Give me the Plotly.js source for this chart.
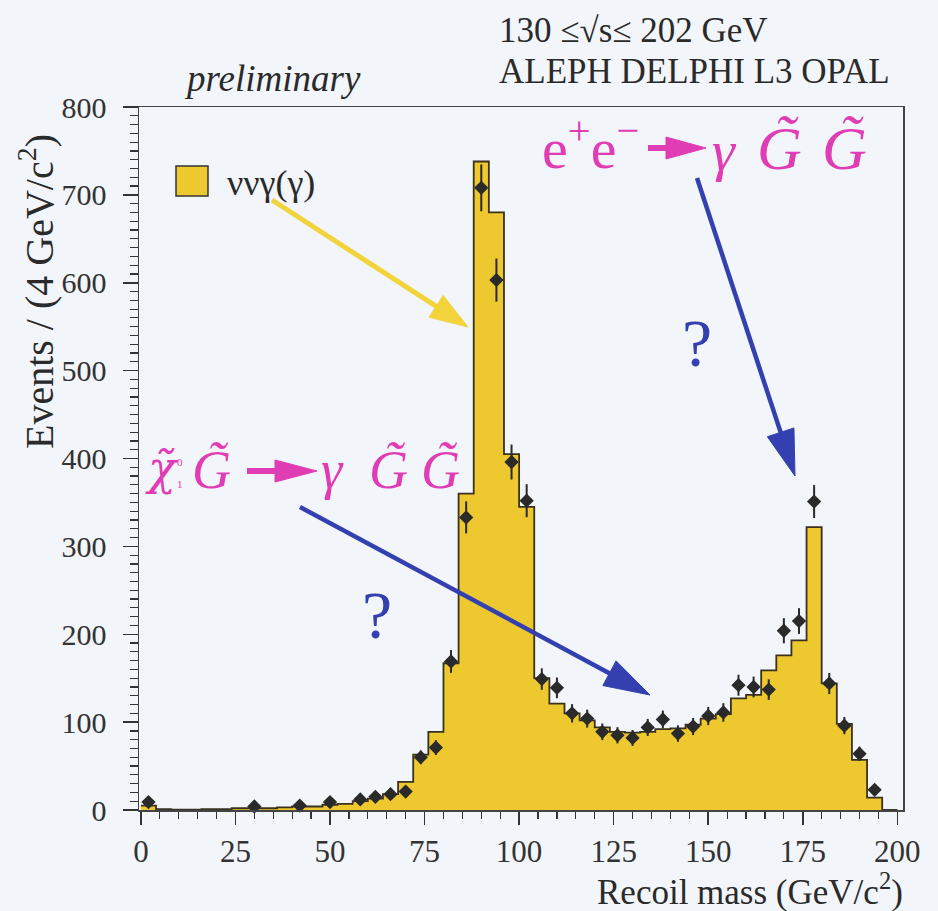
<!DOCTYPE html>
<html><head><meta charset="utf-8">
<script src="https://cdn.plot.ly/plotly-3.0.1.min.js"></script>
<style>html,body{margin:0;padding:0;background:#f2f5fa;} #chart{width:938px;height:911px;}</style>
</head><body><div id="chart"></div>
<script>
// ---- data ----
const binCenters = [2,6,10,14,18,22,26,30,34,38,42,46,50,54,58,62,66,70,74,78,82,86,90,94,98,102,106,110,114,118,122,126,130,134,138,142,146,150,154,158,162,166,170,174,178,182,186,190,194,198];
const binWidth = 4;
const mcCounts = [5,1,0.5,0.5,1,1,2,2,2,3, 4,4,6,7,10,13,18,32,63,89, 167,360,738,680,405,345,150,121,110,102, 94,89,88,89,92,93,97,104,109,127, 131,159,176,193,322,144,98,57,14,0];
const dataCounts = [9,null,null,null,null,null,null,4,null,null, 5,null,9,null,12,15,18,21,60,71, 169,333,708,603,396,352,149,139,110,104, 89,85,82,94,103,87,95,107,111,142, 140,137,204,215,351,144,96,64,23,null];
const xTickVals = [0,25,50,75,100,125,150,175,200];
const xTickText = ['0','25','50','75','100','125','150','175','200'];
const yTickVals = [0,100,200,300,400,500,600,700,800];
const yTickText = ['0','100','200','300','400','500','600','700','800'];
const legendLabel = 'ννγ(γ)';

// ---- styling ----
const FONT = '"Liberation Serif", "Times New Roman", serif';
const GFONT = '"DejaVu Serif", "Liberation Serif", serif';
const BG = '#f2f5fa';
const YELLOW = '#edc82e';
const INK = '#2a2a2a';
const MAGENTA = '#e03cb4';
const BLUE = '#3540b0';
const W = 938, H = 911;
const L = 139, R = 903, T = 107, B = 810;
const px = x => (x - L) / (R - L);
const py = y => (B - y) / (B - T);

// step outline built from bin edges
const stepX = binCenters.map(c => c - binWidth / 2).concat([binCenters[binCenters.length - 1] + binWidth / 2]);
const stepY = mcCounts.concat([mcCounts[mcCounts.length - 1]]);

const traces = [
  {type:'scatter', mode:'lines', x: stepX, y: stepY, line:{shape:'hv', color:'#3a3220', width:1.8},
   fill:'tozeroy', fillcolor: YELLOW, showlegend:false, hoverinfo:'skip'},
  {type:'scatter', mode:'markers', x: binCenters, y: dataCounts,
   marker:{symbol:'diamond', size:11, color:INK},
   error_y:{type:'sqrt', visible:true, color:INK, thickness:2, width:0},
   showlegend:false, cliponaxis:false}
];

const shapes = [];
function arrow(x0, y0, x1, y1, lw, hl, hw, color) {
  const dx = x1 - x0, dy = y1 - y0, len = Math.hypot(dx, dy);
  const ux = dx / len, uy = dy / len;
  const bx = x1 - ux * hl, by = y1 - uy * hl;
  const nx = -uy, ny = ux;
  shapes.push({type:'line', xref:'paper', yref:'paper', x0:px(x0), y0:py(y0), x1:px(bx + ux * 3), y1:py(by + uy * 3), line:{color:color, width:lw}});
  const p1 = [bx + nx * hw / 2, by + ny * hw / 2], p2 = [bx - nx * hw / 2, by - ny * hw / 2];
  shapes.push({type:'path', xref:'paper', yref:'paper',
    path:`M${px(x1)},${py(y1)} L${px(p1[0])},${py(p1[1])} L${px(p2[0])},${py(p2[1])} Z`,
    fillcolor:color, line:{color:color, width:1}});
}
arrow(272, 200, 468, 327, 5, 38, 26, '#f2d33c');
arrow(300, 507, 650, 695, 4.5, 46, 28, BLUE);
arrow(697, 178, 795, 476, 4.5, 46, 28, BLUE);
arrow(247, 471, 317, 471, 6, 42, 22, MAGENTA);
arrow(648, 148, 706, 148, 6, 40, 22, MAGENTA);
// legend swatch
shapes.push({type:'rect', xref:'paper', yref:'paper', x0:px(176), x1:px(208), y0:py(196), y1:py(166),
  fillcolor:YELLOW, line:{color:'#333', width:1.5}});

function txt(text, x, y, size, opts, color, family) {
  return Object.assign({text:text, xref:'paper', yref:'paper', x:px(x), y:py(y), showarrow:false,
    xanchor:'left', yanchor:'middle', font:{family:family || FONT, size:size, color:color || INK}}, opts || {});
}
const annotations = [
  txt('<i>preliminary</i>', 182, 78, 37),
  txt('130 ≤√s≤ 202 GeV', 497, 30, 35),
  txt('ALEPH DELPHI L3 OPAL', 497, 72, 35),
  txt(legendLabel, 225, 183, 36),
  txt('Recoil mass (GeV/c<sup>2</sup>)', 905, 889, 35, {xanchor:'right'}),
  txt('Events / (4 GeV/c<sup>2</sup>)', 36, 292, 40, {xanchor:'center', textangle:-90}),
  // top process
  txt('e<sup>+</sup>e<sup>−</sup>', 540, 144, 58, null, MAGENTA),
  txt('<i>γ</i>', 710, 150, 58, null, MAGENTA),
  txt('<i>G̃</i>', 755, 148, 62, null, MAGENTA),
  txt('<i>G̃</i>', 820, 148, 62, null, MAGENTA),
  // bottom process
  txt('<i>χ̃</i>', 143, 468, 46, null, MAGENTA, GFONT),
  txt('0', 175, 462, 11, null, MAGENTA),
  txt('1', 175, 484, 11, null, MAGENTA),
  txt('<i>G̃</i>', 190, 470, 54, null, MAGENTA),
  txt('<i>γ</i>', 319, 470, 54, null, MAGENTA),
  txt('<i>G̃</i>', 367, 470, 54, null, MAGENTA),
  txt('<i>G̃</i>', 419, 470, 54, null, MAGENTA),
  // question marks
  txt('?', 377, 615, 68, {xanchor:'center'}, BLUE),
  txt('?', 697, 343, 68, {xanchor:'center'}, BLUE)
];

const axisCommon = {showline:true, mirror:true, linecolor:'#444', linewidth:1.5, showgrid:false, zeroline:false,
  ticks:'outside', tickcolor:'#333', tickwidth:1.5, tickfont:{family:FONT, color:'#333'}};

const layout = {
  width:W, height:H, paper_bgcolor:BG, plot_bgcolor:BG,
  margin:{l:L, r:W - R, t:T, b:H - B, pad:0},
  showlegend:false,
  xaxis: Object.assign({}, axisCommon, {range:[-0.5, 201.5], tickmode:'array', tickvals:xTickVals, ticktext:xTickText,
    ticklen:13, tickfont:{family:FONT, size:31, color:'#333'},
    minor:{dtick:5, tick0:0, ticks:'outside', ticklen:7, tickcolor:'#333', tickwidth:1.2, showgrid:false}}),
  yaxis: Object.assign({}, axisCommon, {range:[0, 800], tickmode:'array', tickvals:yTickVals, ticktext:yTickText,
    ticklen:15, ticklabelstandoff:10, tickfont:{family:FONT, size:30, color:'#333'},
    minor:{dtick:10, tick0:0, ticks:'outside', ticklen:8, tickcolor:'#333', tickwidth:1.2, showgrid:false}}),
  shapes: shapes,
  annotations: annotations
};

Plotly.newPlot('chart', traces, layout, {displayModeBar:false, staticPlot:true});
</script>
</body></html>
